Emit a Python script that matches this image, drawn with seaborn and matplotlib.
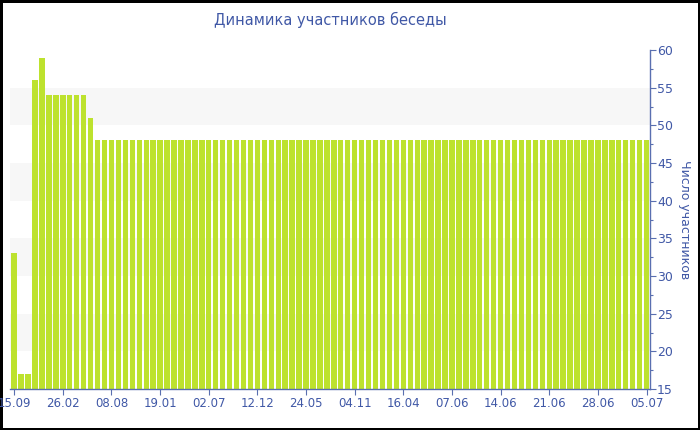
import matplotlib
matplotlib.use('Agg')
import matplotlib.pyplot as plt
from matplotlib.ticker import MultipleLocator
import seaborn as sns
import pandas as pd

# participants per day
first_values = [33, 17, 17, 56, 59, 54, 54, 54, 54, 54, 54, 51]
steady_value = 48
steady_count = 80
members = first_values + [steady_value] * steady_count

tick_labels = ['15.09', '26.02', '08.08', '19.01', '02.07', '12.12', '24.05',
               '04.11', '16.04', '07.06', '14.06', '21.06', '28.06', '05.07']
tick_step = 7

title = 'Динамика участников беседы'
ylabel = 'Число участников'

bar_color = '#bde22e'
text_color = '#4058a6'
axis_color = '#5a6fb0'

sns.set_style('white')
plt.rcParams['font.family'] = ['DejaVu Sans']

df = pd.DataFrame({'day': range(len(members)), 'members': members})

fig = plt.figure(figsize=(7, 4.3), dpi=100)
fig.patch.set_edgecolor('black')
fig.patch.set_linewidth(2.5)
ax = fig.add_axes([0.0143, 0.0953, 0.9143, 0.7884])

# alternating light bands
for lo in range(20, 60, 10):
    ax.axhspan(lo, lo + 5, color='#f7f7f7', zorder=0, lw=0)

sns.barplot(data=df, x='day', y='members', color=bar_color, saturation=1,
            width=0.78, ax=ax, zorder=2, linewidth=0)

ax.set_ylim(15, 60)
ax.set_xlim(-0.6, len(members) - 0.5)
ax.yaxis.tick_right()
ax.yaxis.set_label_position('right')
ax.yaxis.set_major_locator(MultipleLocator(5))
ax.yaxis.set_minor_locator(MultipleLocator(2.5))
ax.tick_params(axis='y', which='major', length=4, width=0.8, colors=axis_color,
               labelcolor=text_color, labelsize=9, pad=1, right=True, direction='out')
ax.tick_params(axis='y', which='minor', length=2.5, width=0.8, colors=axis_color,
               right=True, direction='out')

ax.set_xticks([i * tick_step for i in range(len(tick_labels))])
ax.set_xticklabels(tick_labels)
ax.tick_params(axis='x', length=4, width=0.8, colors=axis_color,
               labelcolor=text_color, labelsize=8.5, pad=2, bottom=True)

ax.set_xlabel('')
ax.set_ylabel(ylabel, rotation=270, color=text_color, fontsize=9, labelpad=13)
ax.set_title(title, color=text_color, fontsize=10.5, pad=18)

for side in ['left', 'top']:
    ax.spines[side].set_visible(False)
for side in ['bottom', 'right']:
    ax.spines[side].set_color(axis_color)
    ax.spines[side].set_linewidth(1)

fig.savefig('out.png', dpi=100)
